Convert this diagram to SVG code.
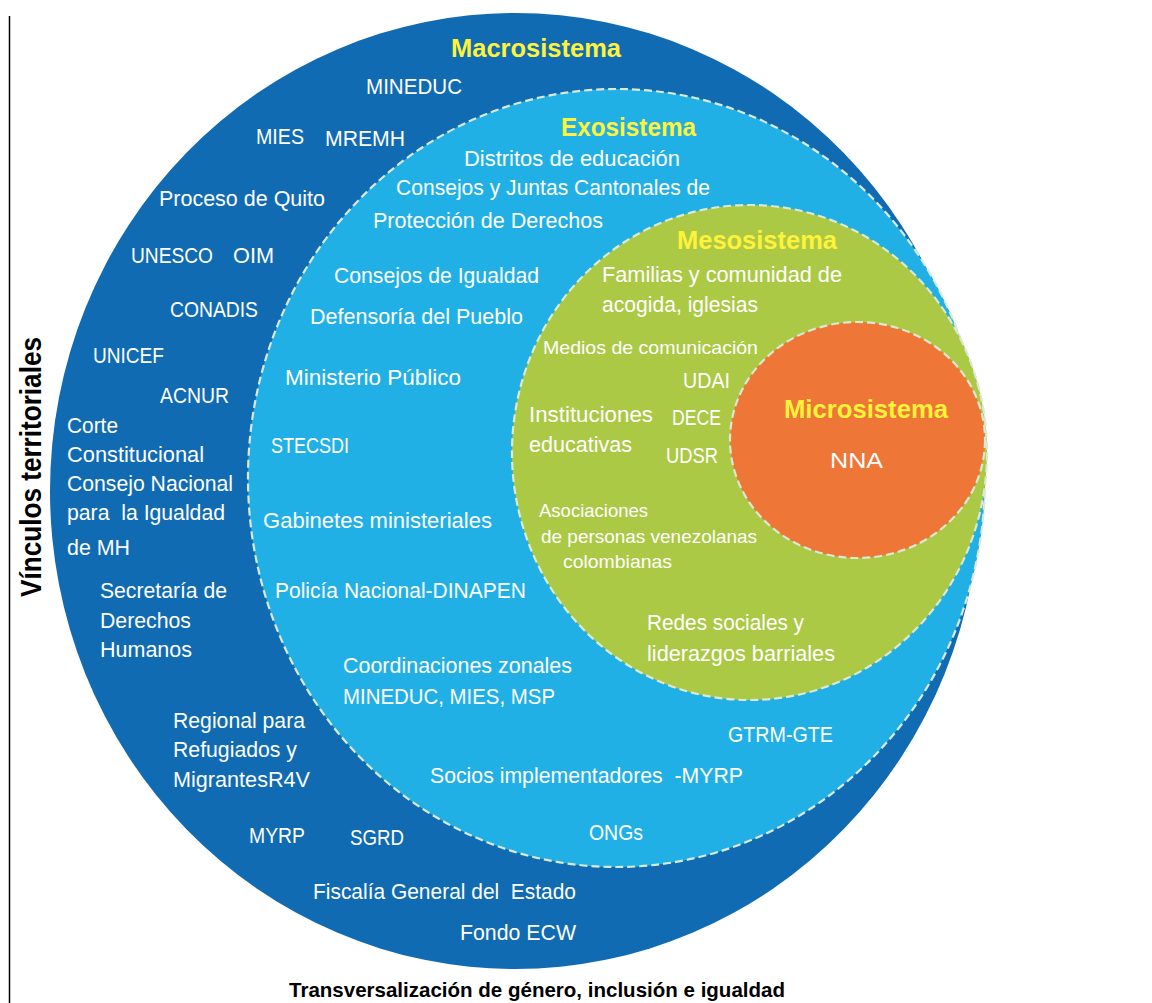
<svg xmlns="http://www.w3.org/2000/svg" width="1152" height="1003" viewBox="0 0 1152 1003">
<style>
.t{font-family:"Liberation Sans",Arial,sans-serif;font-size:22px;fill:#ffffff}
.s{font-family:"Liberation Sans",Arial,sans-serif;font-size:19px;fill:#ffffff}
.h{font-family:"Liberation Sans",Arial,sans-serif;font-size:25px;font-weight:bold;fill:#fff23a}
.k{font-family:"Liberation Sans",Arial,sans-serif;font-weight:bold;fill:#000000}
.ring{stroke:#dbe8d3;stroke-width:2.2;stroke-dasharray:8 4}
</style>
<rect width="1152" height="1003" fill="#ffffff"/>
<line x1="9.5" y1="16" x2="9.5" y2="1003" stroke="#000" stroke-width="1.5"/>

<g id="macrosistema">
<ellipse cx="515" cy="491" rx="465" ry="478" fill="#106bb3"/>
<text class="h" x="451" y="57" textLength="170" lengthAdjust="spacingAndGlyphs">Macrosistema</text>
<text class="t" x="366" y="94" textLength="96" lengthAdjust="spacingAndGlyphs">MINEDUC</text>
<text class="t" x="256" y="144" textLength="48" lengthAdjust="spacingAndGlyphs">MIES</text>
<text class="t" x="325" y="146" textLength="80" lengthAdjust="spacingAndGlyphs">MREMH</text>
<text class="t" x="159" y="206" textLength="166" lengthAdjust="spacingAndGlyphs">Proceso de Quito</text>
<text class="t" x="131" y="263" textLength="82" lengthAdjust="spacingAndGlyphs">UNESCO</text>
<text class="t" x="233" y="263" textLength="41" lengthAdjust="spacingAndGlyphs">OIM</text>
<text class="t" x="170" y="317" textLength="88" lengthAdjust="spacingAndGlyphs">CONADIS</text>
<text class="t" x="93" y="363" textLength="71" lengthAdjust="spacingAndGlyphs">UNICEF</text>
<text class="t" x="160" y="403" textLength="69" lengthAdjust="spacingAndGlyphs">ACNUR</text>
<text class="t" x="67" y="433" textLength="51" lengthAdjust="spacingAndGlyphs">Corte</text>
<text class="t" x="67" y="462" textLength="137" lengthAdjust="spacingAndGlyphs">Constitucional</text>
<text class="t" x="67" y="491" textLength="166" lengthAdjust="spacingAndGlyphs">Consejo Nacional</text>
<text class="t" x="67" y="520" textLength="158" lengthAdjust="spacingAndGlyphs" xml:space="preserve">para  la Igualdad</text>
<text class="t" x="67" y="555" textLength="63" lengthAdjust="spacingAndGlyphs">de MH</text>
<text class="t" x="100" y="598" textLength="127" lengthAdjust="spacingAndGlyphs">Secretaría de</text>
<text class="t" x="100" y="628" textLength="91" lengthAdjust="spacingAndGlyphs">Derechos</text>
<text class="t" x="100" y="657" textLength="92" lengthAdjust="spacingAndGlyphs">Humanos</text>
<text class="t" x="173" y="728" textLength="132" lengthAdjust="spacingAndGlyphs">Regional para</text>
<text class="t" x="173" y="757" textLength="124" lengthAdjust="spacingAndGlyphs">Refugiados y</text>
<text class="t" x="173" y="787" textLength="137" lengthAdjust="spacingAndGlyphs">MigrantesR4V</text>
<text class="t" x="249" y="843" textLength="56" lengthAdjust="spacingAndGlyphs">MYRP</text>
<text class="t" x="350" y="845" textLength="54" lengthAdjust="spacingAndGlyphs">SGRD</text>
<text class="t" x="313" y="899" textLength="263" lengthAdjust="spacingAndGlyphs" xml:space="preserve">Fiscalía General del  Estado</text>
<text class="t" x="460" y="940" textLength="116" lengthAdjust="spacingAndGlyphs">Fondo ECW</text>
</g>

<g id="exosistema">
<ellipse class="ring" cx="616.5" cy="478" rx="368.5" ry="389" fill="#21b0e6"/>
<text class="h" x="561" y="136" textLength="135" lengthAdjust="spacingAndGlyphs">Exosistema</text>
<text class="t" x="464" y="166" textLength="216" lengthAdjust="spacingAndGlyphs">Distritos de educación</text>
<text class="t" x="396" y="195" textLength="314" lengthAdjust="spacingAndGlyphs">Consejos y Juntas Cantonales de</text>
<text class="t" x="373" y="228" textLength="230" lengthAdjust="spacingAndGlyphs">Protección de Derechos</text>
<text class="t" x="334" y="283" textLength="205" lengthAdjust="spacingAndGlyphs">Consejos de Igualdad</text>
<text class="t" x="310" y="324" textLength="213" lengthAdjust="spacingAndGlyphs">Defensoría del Pueblo</text>
<text class="t" x="285" y="385" textLength="176" lengthAdjust="spacingAndGlyphs">Ministerio Público</text>
<text class="t" x="271" y="453" textLength="78" lengthAdjust="spacingAndGlyphs">STECSDI</text>
<text class="t" x="263" y="528" textLength="229" lengthAdjust="spacingAndGlyphs">Gabinetes ministeriales</text>
<text class="t" x="275" y="598" textLength="251" lengthAdjust="spacingAndGlyphs">Policía Nacional-DINAPEN</text>
<text class="t" x="343" y="673" textLength="229" lengthAdjust="spacingAndGlyphs">Coordinaciones zonales</text>
<text class="t" x="343" y="704" textLength="212" lengthAdjust="spacingAndGlyphs">MINEDUC, MIES, MSP</text>
<text class="t" x="728" y="742" textLength="105" lengthAdjust="spacingAndGlyphs">GTRM-GTE</text>
<text class="t" x="430" y="783" textLength="313" lengthAdjust="spacingAndGlyphs" xml:space="preserve">Socios implementadores  -MYRP</text>
<text class="t" x="589" y="840" textLength="54" lengthAdjust="spacingAndGlyphs">ONGs</text>
</g>

<g id="mesosistema">
<ellipse class="ring" cx="749.5" cy="452.5" rx="237.5" ry="247.5" fill="#abc945"/>
<text class="h" x="677" y="249" textLength="160" lengthAdjust="spacingAndGlyphs">Mesosistema</text>
<text class="t" x="602" y="282" textLength="240" lengthAdjust="spacingAndGlyphs">Familias y comunidad de</text>
<text class="t" x="602" y="312" textLength="156" lengthAdjust="spacingAndGlyphs">acogida, iglesias</text>
<text class="s" x="543" y="354" textLength="215" lengthAdjust="spacingAndGlyphs">Medios de comunicación</text>
<text class="t" x="683" y="388" textLength="47" lengthAdjust="spacingAndGlyphs">UDAI</text>
<text class="t" x="529" y="422" textLength="124" lengthAdjust="spacingAndGlyphs">Instituciones</text>
<text class="t" x="529" y="452" textLength="103" lengthAdjust="spacingAndGlyphs">educativas</text>
<text class="t" x="672" y="425" textLength="49" lengthAdjust="spacingAndGlyphs">DECE</text>
<text class="t" x="666" y="463" textLength="52" lengthAdjust="spacingAndGlyphs">UDSR</text>
<text class="s" x="539" y="517" textLength="109" lengthAdjust="spacingAndGlyphs">Asociaciones</text>
<text class="s" x="541" y="543" textLength="216" lengthAdjust="spacingAndGlyphs">de personas venezolanas</text>
<text class="s" x="563" y="568" textLength="109" lengthAdjust="spacingAndGlyphs">colombianas</text>
<text class="t" x="647" y="630" textLength="157" lengthAdjust="spacingAndGlyphs">Redes sociales y</text>
<text class="t" x="647" y="661" textLength="188" lengthAdjust="spacingAndGlyphs">liderazgos barriales</text>
</g>

<g id="microsistema">
<ellipse class="ring" cx="857.5" cy="440" rx="127.5" ry="118" fill="#ee7637"/>
<text class="h" x="784" y="418" textLength="164" lengthAdjust="spacingAndGlyphs">Microsistema</text>
<text class="t" x="830" y="468" textLength="53" lengthAdjust="spacingAndGlyphs">NNA</text>
</g>

<g id="connectors"></g>

<g id="labels">
<text class="k" font-size="29" transform="translate(41,597) rotate(-90)" x="0" y="0" textLength="260" lengthAdjust="spacingAndGlyphs">Vínculos territoriales</text>
<text class="k" font-size="21" x="289" y="997" textLength="496" lengthAdjust="spacingAndGlyphs">Transversalización de género, inclusión e igualdad</text>
</g>
</svg>
